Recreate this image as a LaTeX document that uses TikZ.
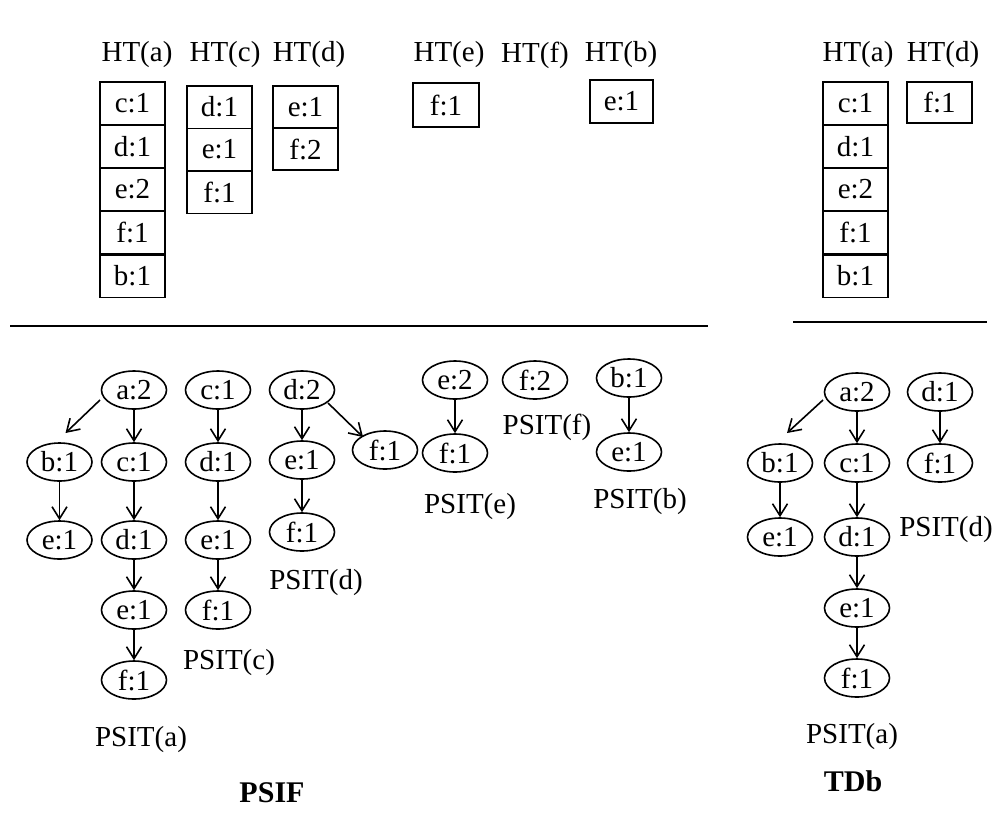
\documentclass[tikz,border=0pt]{standalone}
\usepackage{fontspec}
\setmainfont{Liberation Serif}
\usetikzlibrary{shapes.geometric,arrows.meta,calc}
\tikzset{
  ell/.style={draw,ellipse,line width=1.6pt,minimum width=65pt,minimum height=38pt,inner sep=0pt},
  cell/.style={draw,rectangle,line width=1.5pt,minimum width=65pt,minimum height=43pt,inner sep=0pt},
  lbl/.style={inner sep=0pt},
  arr/.style={-{Straight Barb[length=12pt,width=15pt,line width=1.6pt]},line width=1.6pt},
  sep/.style={line width=1.8pt}
}
\begin{document}
\begin{tikzpicture}[x=1pt,y=-1pt,font=\fontsize{29}{34}\selectfont]
\useasboundingbox (0,0) rectangle (995,812);
% ---------- hash tables (left) ----------
\node[lbl] (hta) at (137,55) {HT(a)};
\node[lbl] (htc) at (225,55) {HT(c)};
\node[lbl] (htd) at (309,55) {HT(d)};
\node[lbl] (hte) at (449,55) {HT(e)};
\node[lbl] (htf) at (535,55) {HT(f)};
\node[lbl] (htb) at (621,55) {HT(b)};
\node[cell] (ac) at (132.5,103.5) {c:1};
\node[cell] (ad) at (132.5,146.5) {d:1};
\node[cell] (ae) at (132.5,189.5) {e:2};
\node[cell] (af) at (132.5,232.5) {f:1};
\node[cell] (ab) at (132.5,276) {b:1};
\draw[line width=2.8pt] (af.south west) -- (af.south east);
\node[cell,minimum height=42.5pt] (cd) at (219.5,107) {d:1};
\node[cell,minimum height=42.5pt] (ce) at (219.5,149.5) {e:1};
\node[cell,minimum height=42.5pt] (cf) at (219.5,192) {f:1};
\node[cell,minimum height=42pt] (de) at (305.5,107) {e:1};
\node[cell,minimum height=42pt] (df) at (305.5,149) {f:2};
\node[cell,minimum width=66pt,minimum height=44pt] (ef) at (446,105) {f:1};
\node[cell,minimum width=63pt] (be) at (621.5,101.5) {e:1};
% ---------- hash tables (right) ----------
\node[lbl] (rhta) at (858,55) {HT(a)};
\node[lbl] (rhtd) at (943,55) {HT(d)};
\node[cell] (rac) at (855.5,103.5) {c:1};
\node[cell] (rad) at (855.5,146.5) {d:1};
\node[cell] (rae) at (855.5,189.5) {e:2};
\node[cell] (raf) at (855.5,232.5) {f:1};
\node[cell] (rab) at (855.5,276) {b:1};
\draw[line width=2.8pt] (raf.south west) -- (raf.south east);
\node[cell,minimum height=41pt] (rdf) at (939.5,102.5) {f:1};
% ---------- separators ----------
\coordinate (l1) at (10,326);
\coordinate (l2) at (708,326);
\coordinate (r1) at (793,322);
\coordinate (r2) at (987,322);
\draw[sep] (l1) -- (l2);
\draw[sep] (r1) -- (r2);
% ---------- PSIT(a) ----------
\node[ell] (pa) at (134,390) {a:2};
\node[ell] (pab) at (59.5,462) {b:1};
\node[ell] (pac) at (134,462) {c:1};
\node[ell] (pabe) at (59.5,540) {e:1};
\node[ell] (pad) at (134,540) {d:1};
\node[ell] (pae) at (134,610) {e:1};
\node[ell] (paf) at (134,680) {f:1};
\draw[arr] ($(pa.center)+(-34,10)$) -- ($(pab.center)+(6,-29)$);
\draw[arr] (pa) -- (pac);
\draw[arr] (pab) -- (pabe);
\draw[arr] (pac) -- (pad);
\draw[arr] (pad) -- (pae);
\draw[arr] (pae) -- (paf);
\node[lbl] (lpa) at (141,740) {PSIT(a)};
% ---------- PSIT(c) ----------
\node[ell] (pc) at (218,390) {c:1};
\node[ell] (pcd) at (218,462) {d:1};
\node[ell] (pce) at (218,540) {e:1};
\node[ell] (pcf) at (218,610) {f:1};
\draw[arr] (pc) -- (pcd);
\draw[arr] (pcd) -- (pce);
\draw[arr] (pce) -- (pcf);
\node[lbl] (lpc) at (229,663) {PSIT(c)};
% ---------- PSIT(d) ----------
\node[ell] (pd) at (302,390) {d:2};
\node[ell] (pde) at (302,460) {e:1};
\node[ell] (pdef) at (302,532) {f:1};
\node[ell] (pdf) at (385,450) {f:1};
\draw[arr] (pd) -- (pde);
\draw[arr] (pde) -- (pdef);
\draw[arr] ($(pd.center)+(26,13)$) -- ($(pdf.center)+(-22,-13)$);
\node[lbl] (lpd) at (316,583) {PSIT(d)};
% ---------- PSIT(e) ----------
\node[ell] (pe) at (455,380) {e:2};
\node[ell] (pef) at (455,453) {f:1};
\draw[arr] (pe) -- (pef);
\node[lbl] (lpe) at (470,507) {PSIT(e)};
% ---------- PSIT(f) ----------
\node[ell] (pf) at (535,380) {f:2};
\node[lbl] (lpf) at (547,427) {PSIT(f)};
% ---------- PSIT(b) ----------
\node[ell] (pb) at (629,378) {b:1};
\node[ell] (pbe) at (629,452) {e:1};
\draw[arr] (pb) -- (pbe);
\node[lbl] (lpb) at (640,502) {PSIT(b)};
% ---------- TDb ----------
\node[ell] (ta) at (857,392) {a:2};
\node[ell] (tb) at (780,463) {b:1};
\node[ell] (tc) at (857,463) {c:1};
\node[ell] (tbe) at (780,537) {e:1};
\node[ell] (tcd) at (857,537) {d:1};
\node[ell] (tde) at (857,608) {e:1};
\node[ell] (tef) at (857,678) {f:1};
\draw[arr] ($(ta.center)+(-34,8)$) -- ($(tb.center)+(7,-30)$);
\draw[arr] (ta) -- (tc);
\draw[arr] (tb) -- (tbe);
\draw[arr] (tc) -- (tcd);
\draw[arr] (tcd) -- (tde);
\draw[arr] (tde) -- (tef);
\node[ell] (td) at (940,392) {d:1};
\node[ell] (tdf) at (940,463) {f:1};
\draw[arr] (td) -- (tdf);
\node[lbl] (ltd) at (946,530) {PSIT(d)};
\node[lbl] (lta) at (852,737) {PSIT(a)};
% ---------- captions ----------
\node[lbl,font=\fontsize{30}{34}\selectfont\bfseries] (cap1) at (272,793) {PSIF};
\node[lbl,font=\fontsize{30}{34}\selectfont\bfseries] (cap2) at (853,781) {TDb};
\end{tikzpicture}
\end{document}
